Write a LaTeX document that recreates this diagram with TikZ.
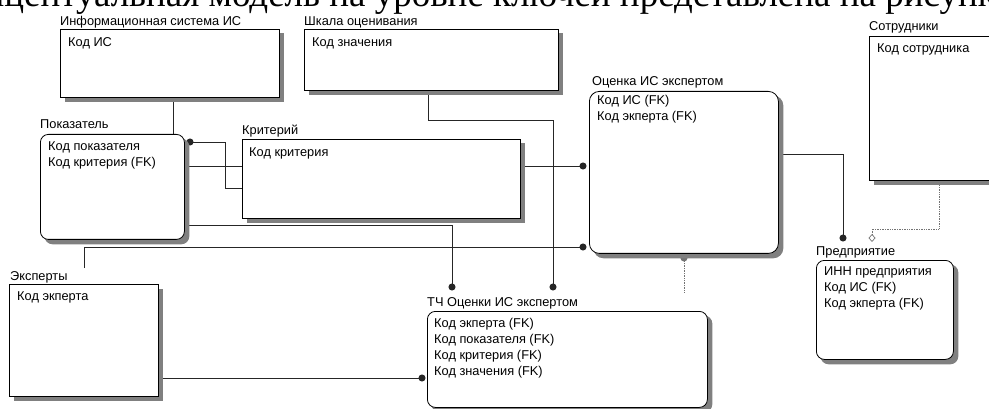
\documentclass[tikz,border=0pt]{standalone}
\usepackage{fontspec}
\setmainfont{Liberation Sans}
\newfontfamily\serfont{Liberation Serif}
\usetikzlibrary{arrows.meta}
\pgfdeclarelayer{conn}
\pgfdeclarelayer{shade}
\pgfsetlayers{conn,shade,main}
\definecolor{shadowc}{gray}{0.5}
\newcommand{\attrlist}[1]{\begin{tabular}[t]{@{}l@{}}#1\end{tabular}}
% #1 style, #2 name, #3 x, #4 y (down), #5 width, #6 height
\newcommand{\erbox}[6]{%
  \node[#1, minimum width=#5pt, minimum height=#6pt] (#2) at (#3,-#4) {};
  \begin{pgfonlayer}{shade}
    \path[#1, draw=none, fill=shadowc] ([shift={(4.5pt,-4.5pt)}]#2.north west) rectangle ([shift={(4.5pt,-4.5pt)}]#2.south east);
  \end{pgfonlayer}}
\begin{document}
\begin{tikzpicture}[x=1pt,y=1pt,
  ent/.style={draw=black, line width=0.8pt, fill=white, anchor=north west, inner sep=0pt},
  rent/.style={ent, rounded corners=8pt},
  ttl/.style={anchor=base west, inner sep=0pt, font=\fontsize{12.8}{16}\selectfont},
  attr/.style={anchor=base west, inner sep=0pt, font=\fontsize{12.8}{16}\selectfont},
  rel/.style={line width=0.8pt, draw=black!85},
  nrel/.style={line width=0.7pt, draw=black!55, densely dotted},
  dotend/.style={-{Circle[length=7pt,width=7pt]}},
  dotstart/.style={{Circle[length=7pt,width=7pt]}-},
  diaend/.style={-{Diamond[open,length=8pt,width=7pt]}}
]
\useasboundingbox (0,0) rectangle (989,-409);
\clip (0,0) rectangle (989,-409);

% heading line cut by the top edge
\node[anchor=base west, inner sep=0pt, font=\serfont\fontsize{37}{37}\selectfont] (head) at (-57,-7)
  {Концептуальная модель на уровне ключей представлена на рисунке};

% entities
\erbox{ent}{is}{60}{29}{219}{68}
\node[ttl] (is-t) at (60,-26) {Информационная система ИС};
\node[attr] (is-a) at (68,-47) {\attrlist{Код ИС}};

\erbox{ent}{sh}{304}{29}{254}{61}
\node[ttl] (sh-t) at (304,-26) {Шкала оценивания};
\node[attr] (sh-a) at (312,-47) {\attrlist{Код значения}};

\erbox{ent}{so}{869}{36}{140}{144}
\node[ttl] (so-t) at (869,-31) {Сотрудники};
\node[attr] (so-a) at (877,-53) {\attrlist{Код сотрудника}};

\erbox{rent}{pok}{40}{134}{144}{105}
\node[ttl] (pok-t) at (40,-129) {Показатель};
\node[attr] (pok-a) at (48,-151) {\attrlist{Код показателя\\Код критерия (FK)}};

\erbox{ent}{kr}{242}{139}{278}{79}
\node[ttl] (kr-t) at (242,-135) {Критерий};
\node[attr] (kr-a) at (249,-157) {\attrlist{Код критерия}};

\erbox{rent, rounded corners=10pt}{oc}{589}{91}{189}{162}
\node[ttl] (oc-t) at (592,-86) {Оценка ИС экспертом};
\node[attr] (oc-a) at (597,-105) {\attrlist{Код ИС (FK)\\Код экперта (FK)}};

\erbox{ent}{ex}{9}{284}{149}{112}
\node[ttl] (ex-t) at (10,-280) {Эксперты};
\node[attr] (ex-a) at (17,-300) {\attrlist{Код экперта}};

\erbox{rent}{tc}{427}{311}{280}{96}
\node[ttl] (tc-t) at (427,-306) {ТЧ Оценки ИС экспертом};
\node[attr] (tc-a) at (434,-327) {\attrlist{Код экперта (FK)\\Код показателя (FK)\\Код критерия (FK)\\Код значения (FK)}};

\erbox{rent}{pr}{816}{260}{137}{99}
\node[ttl] (pr-t) at (816,-255) {Предприятие};
\node[attr] (pr-a) at (824,-276) {\attrlist{ИНН предприятия\\Код ИС (FK)\\Код экперта (FK)}};

% coordinates for connector ends
\coordinate (dpok) at (186.5,-142);
\coordinate (doc1) at (586.5,-166);
\coordinate (doc2) at (586.5,-247);
\coordinate (dtc1) at (452,-290.5);
\coordinate (dtc2) at (553,-290.5);
\coordinate (dtc3) at (425.5,-378);
\coordinate (dpr) at (843,-241.5);
\coordinate (dprd) at (872,-242);
\coordinate (ocfree) at (684,-293);
\coordinate (expfree) at (84,-268);
\coordinate (sostart) at (939,-182);
\coordinate (ocstart) at (684,-254.5);

% connectors, beneath shadows and boxes
\begin{pgfonlayer}{conn}
\draw[rel] (is.south -| 173,0) -- (pok.north -| 173,0);
\draw[rel,dotend] (pok.east |- 0,-166) -- (doc1);
\draw[rel,dotend] (kr.west |- 0,-188) -- (225,-188) |- (dpok);
\draw[rel,dotend] (pok.east |- 0,-225) -| (dtc1);
\draw[rel,dotend] (expfree) |- (doc2);
\draw[rel,dotend] (sh.south -| 428,0) |- (553,-120) -- (dtc2);
\draw[rel,dotend] (ex.east |- 0,-378) -- (dtc3);
\draw[rel,dotend] (oc.east |- 0,-154) -| (dpr);
\draw[nrel,dotstart,diaend] (sostart) |- (872,-229) -- (dprd);
\draw[nrel,dotstart] (ocstart) -- (ocfree);
\end{pgfonlayer}
\end{tikzpicture}
\end{document}
